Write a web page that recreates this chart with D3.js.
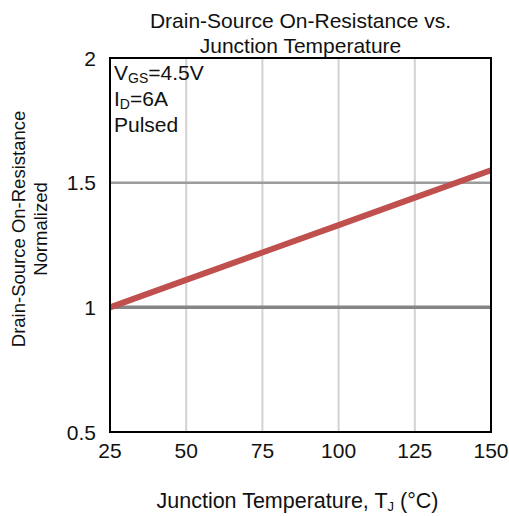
<!DOCTYPE html>
<html>
<head>
<meta charset="utf-8">
<script src="https://cdn.jsdelivr.net/npm/d3@7"></script>
<style>
  body { margin: 0; background: #fff; }
  text { font-family: "Liberation Sans", Arial, sans-serif; fill: #111; }
</style>
</head>
<body>
<div id="chart"></div>
<script>
const width = 509;
const height = 516;

const margin = { top: 58, right: 18, bottom: 84, left: 110 };

// data
const tempC   = [25, 50, 75, 100, 125, 150];
const rdsNorm = [1.0, 1.11, 1.22, 1.33, 1.44, 1.55];

const xTicks = [25, 50, 75, 100, 125, 150];
const yTicks = [0.5, 1, 1.5, 2];
const yGridMajor = [1, 1.5];

const fs = "21px";

const svg = d3.select("#chart").append("svg")
   .attr("width", width)
   .attr("height", height);

const x = d3.scaleLinear()
   .domain([25, 150])
   .range([margin.left, width - margin.right]);

const y = d3.scaleLinear()
   .domain([0.5, 2])
   .range([height - margin.bottom, margin.top]);

// vertical grid
svg.append("g")
   .selectAll("line")
   .data(xTicks.slice(1, -1))
   .enter().append("line")
   .attr("x1", d => x(d)).attr("x2", d => x(d))
   .attr("y1", y(0.5)).attr("y2", y(2))
   .style("stroke", "#d2d2d2")
   .style("stroke-width", 2);

// horizontal grid
svg.append("g")
   .selectAll("line")
   .data(yGridMajor)
   .enter().append("line")
   .attr("x1", x(25)).attr("x2", x(150))
   .attr("y1", d => y(d)).attr("y2", d => y(d))
   .style("stroke", d => d == 1 ? "#858585" : "#9c9c9c")
   .style("stroke-width", d => d == 1 ? 3.5 : 2.5);

// curve
const line = d3.line()
   .x((d, i) => x(tempC[i]))
   .y(d => y(d));

svg.append("path")
   .datum(rdsNorm)
   .attr("d", line)
   .style("fill", "none")
   .style("stroke", "#c0504d")
   .style("stroke-width", 6);

// frame
svg.append("rect")
   .attr("x", x(25)).attr("y", y(2))
   .attr("width", x(150) - x(25))
   .attr("height", y(0.5) - y(2))
   .style("fill", "none")
   .style("stroke", "#000")
   .style("stroke-width", 2);

// tick labels
svg.append("g")
   .selectAll("text")
   .data(xTicks)
   .enter().append("text")
   .attr("x", d => x(d))
   .attr("y", y(0.5) + 26)
   .style("text-anchor", "middle")
   .style("font-size", fs)
   .text(d => d);

svg.append("g")
   .selectAll("text")
   .data(yTicks)
   .enter().append("text")
   .attr("x", margin.left - 14)
   .attr("y", d => y(d) + 7.5)
   .style("text-anchor", "end")
   .style("font-size", fs)
   .text(d => d);

// title
const cx = (x(25) + x(150)) / 2;
svg.append("text")
   .attr("x", cx).attr("y", 28)
   .style("text-anchor", "middle")
   .style("font-size", fs)
   .text("Drain-Source On-Resistance vs.");
svg.append("text")
   .attr("x", cx).attr("y", 53)
   .style("text-anchor", "middle")
   .style("font-size", fs)
   .text("Junction Temperature");

// axis titles
const xl = svg.append("text")
   .attr("x", cx - 3).attr("y", 508)
   .style("text-anchor", "middle")
   .style("font-size", "21.5px");
xl.append("tspan").text("Junction Temperature, T");
xl.append("tspan").attr("dy", 3).style("font-size", "13px").text("J");
xl.append("tspan").attr("dy", -3).text(" (°C)");

const cy = 229;
svg.append("text")
   .attr("transform", `translate(25,${cy}) rotate(-90)`)
   .style("text-anchor", "middle")
   .style("font-size", "18.5px")
   .text("Drain-Source On-Resistance");
svg.append("text")
   .attr("transform", `translate(47,${cy}) rotate(-90)`)
   .style("text-anchor", "middle")
   .style("font-size", "18.5px")
   .text("Normalized");

// conditions
const tx = x(25) + 4;
const c1 = svg.append("text").attr("x", tx).attr("y", 80).style("font-size", fs);
c1.append("tspan").text("V");
c1.append("tspan").attr("dy", 3).style("font-size", "14px").text("GS");
c1.append("tspan").attr("dy", -3).text("=4.5V");
const c2 = svg.append("text").attr("x", tx).attr("y", 106).style("font-size", fs);
c2.append("tspan").text("I");
c2.append("tspan").attr("dy", 3).style("font-size", "14px").text("D");
c2.append("tspan").attr("dy", -3).text("=6A");
svg.append("text").attr("x", tx).attr("y", 132).style("font-size", fs).text("Pulsed");
</script>
</body>
</html>
